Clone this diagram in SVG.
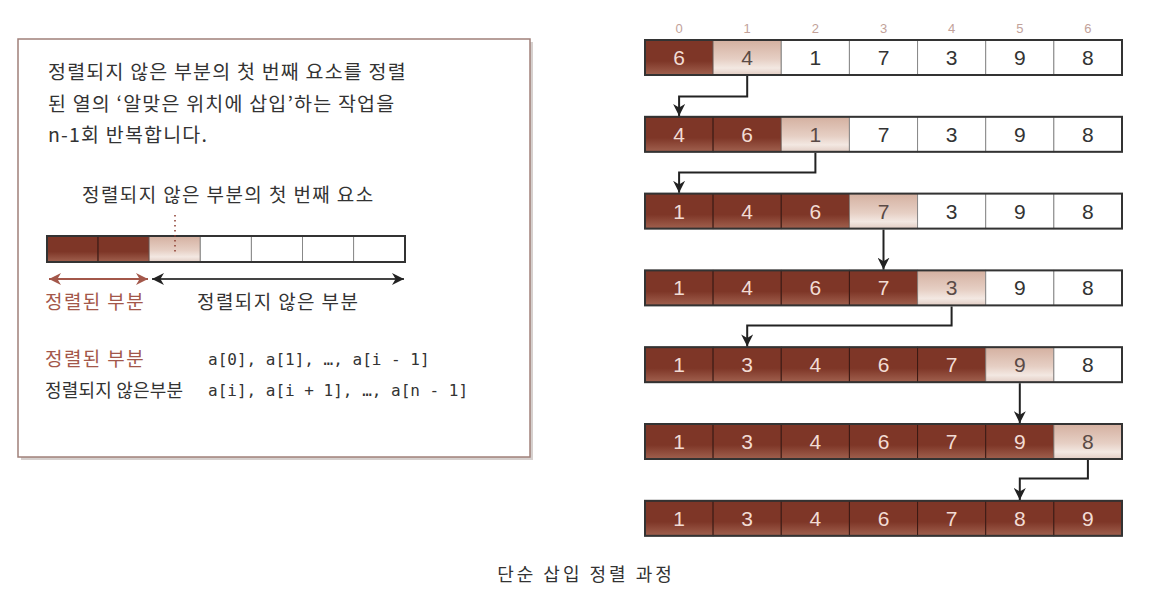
<svg xmlns="http://www.w3.org/2000/svg" width="1162" height="610" viewBox="0 0 1162 610">
<style>
.kr{font-family:"Noto Sans CJK KR","Noto Sans",sans-serif;fill:#333}
.br{fill:#a3574a}
.mono{font-family:"DejaVu Sans Mono","Liberation Mono",monospace;font-size:16px;fill:#333}
.num{font-family:"Liberation Sans",Arial,sans-serif;font-size:21px;text-anchor:middle}
.idx{font-family:"Liberation Sans",Arial,sans-serif;font-size:13px;fill:#c2a29a;text-anchor:middle}
.d{fill:url(#gd);stroke:#3b1a14;stroke-width:1}
.l{fill:url(#gl);stroke:#8a7a74;stroke-width:1}
.w{fill:#fff;stroke:#888;stroke-width:1}
.dt{fill:#f2dcd4}
.lt{fill:#5a4a46}
.wt{fill:#333}
.frame{fill:none;stroke:#333;stroke-width:2}
.conn{fill:none;stroke:#222;stroke-width:2}
</style>
<defs>
<linearGradient id="gd" x1="0" y1="0" x2="0" y2="1">
<stop offset="0" stop-color="#7e3627"/>
<stop offset="0.6" stop-color="#7e3627"/>
<stop offset="1" stop-color="#a0604e"/>
</linearGradient>
<linearGradient id="gl" x1="0" y1="0" x2="0" y2="1">
<stop offset="0" stop-color="#d4b0a0"/>
<stop offset="0.55" stop-color="#e6cfc4"/>
<stop offset="0.8" stop-color="#f3e8e2"/>
<stop offset="1" stop-color="#e2cdc4"/>
</linearGradient>
<marker id="ah" markerWidth="12" markerHeight="12" refX="10" refY="5" orient="auto" markerUnits="userSpaceOnUse" viewBox="0 0 10 10">
<path d="M0,0 L10,5 L0,10 L3,5 z" fill="#222"/>
</marker>
<marker id="abr" markerWidth="14" markerHeight="12" refX="10" refY="5" orient="auto-start-reverse" markerUnits="userSpaceOnUse" viewBox="0 0 10 10">
<path d="M0,0 L10,5 L0,10 L3,5 z" fill="#a3574a"/>
</marker>
<marker id="abk" markerWidth="14" markerHeight="12" refX="10" refY="5" orient="auto-start-reverse" markerUnits="userSpaceOnUse" viewBox="0 0 10 10">
<path d="M0,0 L10,5 L0,10 L3,5 z" fill="#222"/>
</marker>
</defs>
<rect width="1162" height="610" fill="#fff"/>

<!-- left explanation box -->
<g id="explain">
<rect x="21" y="42" width="512" height="418" fill="#d6d0ce"/>
<rect x="18" y="39" width="512" height="418" fill="#fff" stroke="#a0807a" stroke-width="1.5"/>
<text class="kr" x="48" y="79" font-size="19.5" letter-spacing="1.2">정렬되지 않은 부분의 첫 번째 요소를 정렬</text>
<text class="kr" x="48" y="111" font-size="19.5" letter-spacing="1.2">된 열의 ‘알맞은 위치에 삽입’하는 작업을</text>
<text class="kr" x="48" y="142" font-size="19.5" letter-spacing="1.2">n-1회 반복합니다.</text>
<text class="kr" x="82" y="202" font-size="19" letter-spacing="1.4">정렬되지 않은 부분의 첫 번째 요소</text>
<g>
<rect class="d" x="47" y="236" width="51.1" height="26"/>
<rect class="d" x="98.1" y="236" width="51.1" height="26"/>
<rect class="l" x="149.2" y="236" width="51.1" height="26"/>
<rect class="w" x="200.3" y="236" width="51.1" height="26"/>
<rect class="w" x="251.4" y="236" width="51.1" height="26"/>
<rect class="w" x="302.5" y="236" width="51.1" height="26"/>
<rect class="w" x="353.6" y="236" width="51.4" height="26"/>
<rect class="frame" x="47" y="236" width="358" height="26" stroke-width="1.5"/>
</g>
<line x1="175" y1="215" x2="175" y2="252" stroke="#8a3a2c" stroke-width="1.5" stroke-dasharray="1.5,3.5"/>
<line x1="49" y1="279" x2="148" y2="279" stroke="#a3574a" stroke-width="2" marker-start="url(#abr)" marker-end="url(#abr)"/>
<line x1="152" y1="279" x2="404" y2="279" stroke="#444" stroke-width="2" marker-start="url(#abk)" marker-end="url(#abk)"/>
<text class="kr br" x="45" y="309" font-size="19" letter-spacing="1.4">정렬된 부분</text>
<text class="kr" x="197" y="309" font-size="19" letter-spacing="1.4">정렬되지 않은 부분</text>
<text class="kr br" x="45" y="366" font-size="19" letter-spacing="1.4">정렬된 부분</text>
<text class="mono" x="208" y="365">a[0], a[1], …, a[i - 1]</text>
<text class="kr" x="45" y="397" font-size="18" letter-spacing="0.2">정렬되지 않은부분</text>
<text class="mono" x="208" y="396">a[i], a[i + 1], …, a[n - 1]</text>
</g>

<!-- index labels -->
<g id="indices">
<text class="idx" x="679.1" y="33">0</text>
<text class="idx" x="747.2" y="33">1</text>
<text class="idx" x="815.4" y="33">2</text>
<text class="idx" x="883.5" y="33">3</text>
<text class="idx" x="951.6" y="33">4</text>
<text class="idx" x="1019.8" y="33">5</text>
<text class="idx" x="1087.9" y="33">6</text>
</g>

<!-- rows -->
<g id="row0" transform="translate(645,40)">
<rect class="d" x="0" y="0" width="68.14" height="35"/><rect class="l" x="68.14" y="0" width="68.14" height="35"/><rect class="w" x="136.28" y="0" width="68.14" height="35"/><rect class="w" x="204.42" y="0" width="68.14" height="35"/><rect class="w" x="272.56" y="0" width="68.14" height="35"/><rect class="w" x="340.7" y="0" width="68.14" height="35"/><rect class="w" x="408.84" y="0" width="68.16" height="35"/>
<rect class="frame" x="0" y="0" width="477" height="35"/>
<text class="num dt" x="34.07" y="25">6</text><text class="num lt" x="102.21" y="25">4</text><text class="num wt" x="170.35" y="25">1</text><text class="num wt" x="238.49" y="25">7</text><text class="num wt" x="306.63" y="25">3</text><text class="num wt" x="374.77" y="25">9</text><text class="num wt" x="442.91" y="25">8</text>
</g>
<g id="row1" transform="translate(645,116.8)">
<rect class="d" x="0" y="0" width="68.14" height="35"/><rect class="d" x="68.14" y="0" width="68.14" height="35"/><rect class="l" x="136.28" y="0" width="68.14" height="35"/><rect class="w" x="204.42" y="0" width="68.14" height="35"/><rect class="w" x="272.56" y="0" width="68.14" height="35"/><rect class="w" x="340.7" y="0" width="68.14" height="35"/><rect class="w" x="408.84" y="0" width="68.16" height="35"/>
<rect class="frame" x="0" y="0" width="477" height="35"/>
<text class="num dt" x="34.07" y="25">4</text><text class="num dt" x="102.21" y="25">6</text><text class="num lt" x="170.35" y="25">1</text><text class="num wt" x="238.49" y="25">7</text><text class="num wt" x="306.63" y="25">3</text><text class="num wt" x="374.77" y="25">9</text><text class="num wt" x="442.91" y="25">8</text>
</g>
<g id="row2" transform="translate(645,193.6)">
<rect class="d" x="0" y="0" width="68.14" height="35"/><rect class="d" x="68.14" y="0" width="68.14" height="35"/><rect class="d" x="136.28" y="0" width="68.14" height="35"/><rect class="l" x="204.42" y="0" width="68.14" height="35"/><rect class="w" x="272.56" y="0" width="68.14" height="35"/><rect class="w" x="340.7" y="0" width="68.14" height="35"/><rect class="w" x="408.84" y="0" width="68.16" height="35"/>
<rect class="frame" x="0" y="0" width="477" height="35"/>
<text class="num dt" x="34.07" y="25">1</text><text class="num dt" x="102.21" y="25">4</text><text class="num dt" x="170.35" y="25">6</text><text class="num lt" x="238.49" y="25">7</text><text class="num wt" x="306.63" y="25">3</text><text class="num wt" x="374.77" y="25">9</text><text class="num wt" x="442.91" y="25">8</text>
</g>
<g id="row3" transform="translate(645,270.4)">
<rect class="d" x="0" y="0" width="68.14" height="35"/><rect class="d" x="68.14" y="0" width="68.14" height="35"/><rect class="d" x="136.28" y="0" width="68.14" height="35"/><rect class="d" x="204.42" y="0" width="68.14" height="35"/><rect class="l" x="272.56" y="0" width="68.14" height="35"/><rect class="w" x="340.7" y="0" width="68.14" height="35"/><rect class="w" x="408.84" y="0" width="68.16" height="35"/>
<rect class="frame" x="0" y="0" width="477" height="35"/>
<text class="num dt" x="34.07" y="25">1</text><text class="num dt" x="102.21" y="25">4</text><text class="num dt" x="170.35" y="25">6</text><text class="num dt" x="238.49" y="25">7</text><text class="num lt" x="306.63" y="25">3</text><text class="num wt" x="374.77" y="25">9</text><text class="num wt" x="442.91" y="25">8</text>
</g>
<g id="row4" transform="translate(645,347.2)">
<rect class="d" x="0" y="0" width="68.14" height="35"/><rect class="d" x="68.14" y="0" width="68.14" height="35"/><rect class="d" x="136.28" y="0" width="68.14" height="35"/><rect class="d" x="204.42" y="0" width="68.14" height="35"/><rect class="d" x="272.56" y="0" width="68.14" height="35"/><rect class="l" x="340.7" y="0" width="68.14" height="35"/><rect class="w" x="408.84" y="0" width="68.16" height="35"/>
<rect class="frame" x="0" y="0" width="477" height="35"/>
<text class="num dt" x="34.07" y="25">1</text><text class="num dt" x="102.21" y="25">3</text><text class="num dt" x="170.35" y="25">4</text><text class="num dt" x="238.49" y="25">6</text><text class="num dt" x="306.63" y="25">7</text><text class="num lt" x="374.77" y="25">9</text><text class="num wt" x="442.91" y="25">8</text>
</g>
<g id="row5" transform="translate(645,424)">
<rect class="d" x="0" y="0" width="68.14" height="35"/><rect class="d" x="68.14" y="0" width="68.14" height="35"/><rect class="d" x="136.28" y="0" width="68.14" height="35"/><rect class="d" x="204.42" y="0" width="68.14" height="35"/><rect class="d" x="272.56" y="0" width="68.14" height="35"/><rect class="d" x="340.7" y="0" width="68.14" height="35"/><rect class="l" x="408.84" y="0" width="68.16" height="35"/>
<rect class="frame" x="0" y="0" width="477" height="35"/>
<text class="num dt" x="34.07" y="25">1</text><text class="num dt" x="102.21" y="25">3</text><text class="num dt" x="170.35" y="25">4</text><text class="num dt" x="238.49" y="25">6</text><text class="num dt" x="306.63" y="25">7</text><text class="num dt" x="374.77" y="25">9</text><text class="num lt" x="442.91" y="25">8</text>
</g>
<g id="row6" transform="translate(645,500.8)">
<rect class="d" x="0" y="0" width="68.14" height="35"/><rect class="d" x="68.14" y="0" width="68.14" height="35"/><rect class="d" x="136.28" y="0" width="68.14" height="35"/><rect class="d" x="204.42" y="0" width="68.14" height="35"/><rect class="d" x="272.56" y="0" width="68.14" height="35"/><rect class="d" x="340.7" y="0" width="68.14" height="35"/><rect class="d" x="408.84" y="0" width="68.16" height="35"/>
<rect class="frame" x="0" y="0" width="477" height="35"/>
<text class="num dt" x="34.07" y="25">1</text><text class="num dt" x="102.21" y="25">3</text><text class="num dt" x="170.35" y="25">4</text><text class="num dt" x="238.49" y="25">6</text><text class="num dt" x="306.63" y="25">7</text><text class="num dt" x="374.77" y="25">8</text><text class="num dt" x="442.91" y="25">9</text>
</g>

<!-- connectors -->
<g id="connectors">
<path class="conn" d="M747.2,76 V96.5 H679.1 V116" marker-end="url(#ah)"/>
<path class="conn" d="M815.4,152.8 V172.5 H679.1 V192.8" marker-end="url(#ah)"/>
<path class="conn" d="M883.5,229.6 V269.6" marker-end="url(#ah)"/>
<path class="conn" d="M951.6,306.4 V325.5 H747.2 V346.4" marker-end="url(#ah)"/>
<path class="conn" d="M1019.8,383.2 V423.2" marker-end="url(#ah)"/>
<path class="conn" d="M1087.9,460 V478.5 H1019.8 V500" marker-end="url(#ah)"/>
</g>

<text id="caption" class="kr" x="586" y="581" font-size="18" text-anchor="middle" fill="#444" letter-spacing="3">단순 삽입 정렬 과정</text>
</svg>
